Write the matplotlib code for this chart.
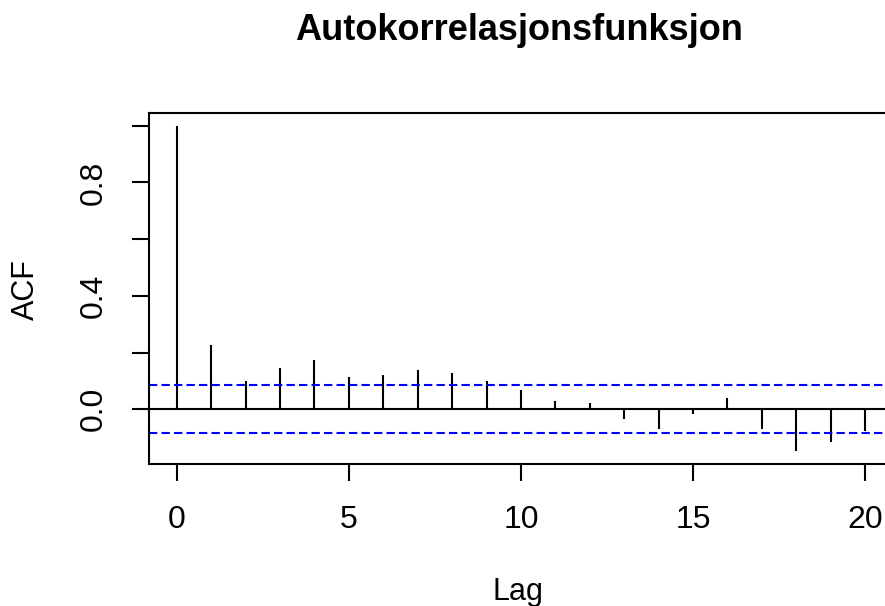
import matplotlib.pyplot as plt
import numpy as np

# ACF estimates per lag, read off as values
lags = np.arange(0, 21)
acf = [1.000, 0.226, 0.099, 0.147, 0.173, 0.115, 0.120, 0.140, 0.127, 0.099,
       0.068, 0.029, 0.022, -0.035, -0.069, -0.018, 0.041, -0.069, -0.148,
       -0.116, -0.075]
conf = 0.085  # 95% band, +/-
xticks = [0, 5, 10, 15, 20]
yticks = [0.0, 0.2, 0.4, 0.6, 0.8, 1.0]
ylabels = ['0.0', '', '0.4', '', '0.8', '']

plt.rcParams['font.family'] = ['Liberation Sans', 'DejaVu Sans']

W, H = 885, 606
fig = plt.figure(figsize=(W / 100, H / 100), dpi=100)
# plot box runs a little past the right edge of the figure
left, right, top, bottom = 149.3, 892.6, 112.7, 464.3
ax = fig.add_axes([left / W, 1 - bottom / H, (right - left) / W, (bottom - top) / H])

lw = 1.5
ax.vlines(lags, 0, acf, color='black', lw=lw)
ax.axhline(0, color='black', lw=lw)
for c in (conf, -conf):
    ax.axhline(c, color='#0000ff', lw=lw, ls=(0, (4, 2)))

# R-style 4% padding
lo = min(min(acf), -conf)
hi = max(max(acf), conf)
pad = 0.04 * (hi - lo)
ax.set_ylim(lo - pad, hi + pad)
ax.set_xlim(-0.04 * 20, 20 + 0.04 * 20)

ax.set_xticks(xticks)
ax.set_yticks(yticks)
ax.set_yticklabels(ylabels, rotation=90, va='center')
ax.tick_params(axis='both', length=12.5, width=lw, labelsize=23, color='black')
ax.tick_params(axis='x', pad=17)
ax.tick_params(axis='y', pad=17)
for s in ax.spines.values():
    s.set_linewidth(lw)

fig.text(519 / W, 1 - 31 / H, 'Autokorrelasjonsfunksjon', ha='center', va='center',
         fontsize=26, fontweight='bold')
fig.text(518 / W, 1 - 592 / H, 'Lag', ha='center', va='center', fontsize=22)
fig.text(26 / W, 1 - 290 / H, 'ACF', ha='center', va='center', fontsize=22, rotation=90)

fig.savefig('out.png', dpi=100)
